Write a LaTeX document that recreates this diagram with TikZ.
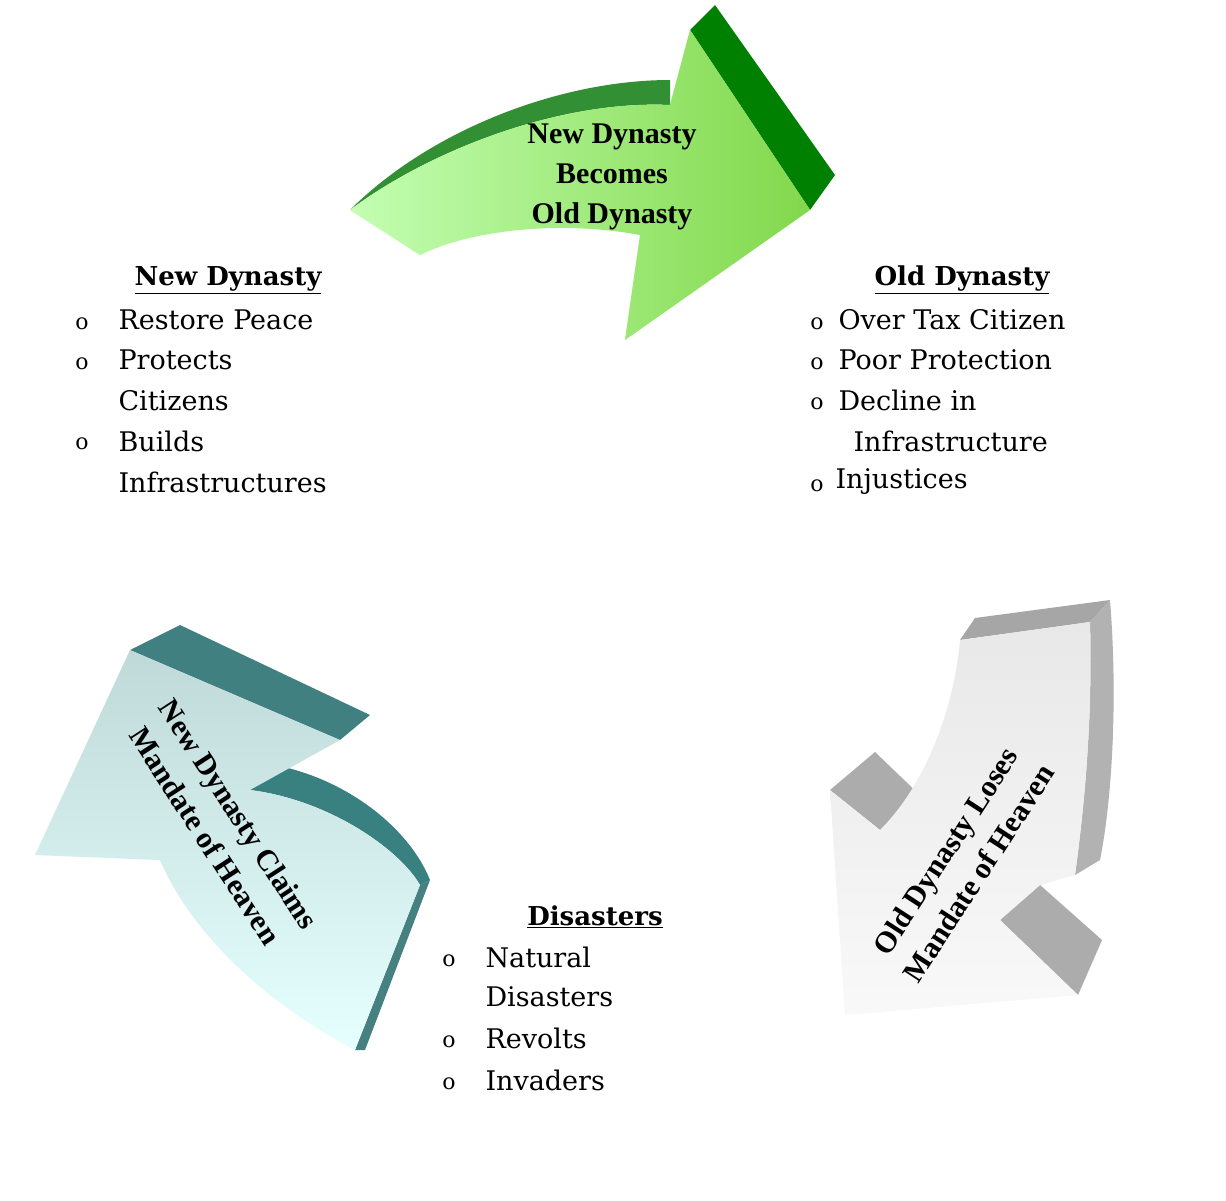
\documentclass[tikz,border=0pt]{standalone}
\usepackage{fontspec}
\setmainfont{Liberation Serif}
\newfontfamily\listfont{DejaVu Serif}
\begin{document}
\begin{tikzpicture}[x=1pt,y=-1pt,
    listtext/.style={anchor=west, font=\listfont\fontsize{27}{34}\selectfont},
    bul/.style={anchor=center, font=\listfont\fontsize{22}{30}\selectfont},
    title/.style={anchor=center, font=\listfont\fontsize{26}{34}\selectfont\bfseries},
    arrowtext/.style={align=center, font=\fontsize{30}{40}\selectfont\bfseries, inner sep=0pt}
  ]
    \useasboundingbox[fill=white] (0,0) rectangle (1226,1200);

    % Fleche haute (verte)
    \fill[green!45!black!80] (350,210) .. controls (430,130) and (560,80) .. (670,80) -- (670,105) .. controls (560,100) and (430,150) .. (350,210) -- cycle;
    \fill[green!50!black] (690,30) -- (715,5) -- (835,175) -- (810,210) -- cycle;
    \fill[green!55!lime!40!white] (350,210) .. controls (430,150) and (560,100) .. (670,105) -- (690,30) -- (810,210) -- (625,340) -- (640,235) .. controls (560,220) and (470,230) .. (420,255) -- cycle;
    \shade[left color=green!20!white, right color=green!45!lime!70!black, opacity=0.5] (350,210) .. controls (430,150) and (560,100) .. (670,105) -- (690,30) -- (810,210) -- (625,340) -- (640,235) .. controls (560,220) and (470,230) .. (420,255) -- cycle;

    % Fleche gauche (bleu-vert)
    \fill[teal!50!gray] (130,650) -- (180,625) -- (370,715) -- (340,740) -- cycle;
    \fill[teal!55!gray] (250,790) -- (275,765) .. controls (350,780) and (410,830) .. (430,880) -- (420,885) .. controls (400,850) and (330,800) .. (250,790) -- cycle;
    \fill[teal!45!gray] (420,885) -- (430,880) -- (365,1050) -- (355,1050) -- cycle;
    \shade[top color=cyan!25!gray!40, bottom color=cyan!10!white] (35,855) -- (130,650) -- (340,740) -- (250,790) .. controls (330,800) and (400,850) .. (420,885) -- (355,1050) .. controls (260,1000) and (190,930) .. (160,860) -- cycle;

    % Fleche droite (grise)
    \fill[gray!70] (960,640) -- (975,618) -- (1110,600) -- (1090,622) -- cycle;
    \fill[gray!60] (1090,622) -- (1110,600) .. controls (1118,700) and (1112,800) .. (1100,860) -- (1075,875) .. controls (1088,780) and (1092,700) .. (1090,622) -- cycle;
    \fill[gray!65] (830,790) -- (875,752) -- (925,800) -- (880,830) -- cycle;
    \fill[gray!65] (1000,920) -- (1040,885) -- (1102,940) -- (1078,995) -- cycle;
    \shade[top color=gray!18, bottom color=gray!5] (960,640) -- (1090,622) .. controls (1092,700) and (1088,780) .. (1075,875) -- (1040,885) -- (1000,920) -- (1078,995) -- (845,1015) -- (830,790) -- (880,830) .. controls (930,780) and (955,700) .. (960,640) -- cycle;

    % Textes des fleches
    \node[arrowtext] (tTop) at (612,177) {New Dynasty\\Becomes\\Old Dynasty};
    \node[arrowtext, rotate=-57] (tLeft) at (222,825) {New Dynasty Claims\\Mandate of Heaven};
    \node[arrowtext, rotate=57] (tRight) at (962,862) {Old Dynasty Loses\\Mandate of Heaven};

    % New Dynasty
    \node[title] (nd) at (228,280) {\underline{New Dynasty}};
    \foreach \y in {324,364,444} \node[bul] at (82,\y) {o};
    \node[listtext] (nd1) at (115,320) {Restore Peace};
    \node[listtext] (nd2) at (115,360) {Protects};
    \node[listtext] (nd3) at (115,401) {Citizens};
    \node[listtext] (nd4) at (115,441) {Builds};
    \node[listtext] (nd5) at (115,482) {Infrastructures};

    % Old Dynasty
    \node[title] (od) at (962,280) {\underline{Old Dynasty}};
    \foreach \y in {324,364,404,486} \node[bul] at (817,\y) {o};
    \node[listtext] (od1) at (835,320) {Over Tax Citizen};
    \node[listtext] (od2) at (835,360) {Poor Protection};
    \node[listtext] (od3) at (835,400) {Decline in};
    \node[listtext] (od4) at (850,441) {Infrastructure};
    \node[listtext] (od5) at (832,482) {Injustices};

    % Disasters
    \node[title] (ds) at (595,917) {\underline{Disasters}};
    \foreach \y in {961,1042,1084} \node[bul] at (449,\y) {o};
    \node[listtext] (ds1) at (482,957) {Natural};
    \node[listtext] (ds2) at (482,997) {Disasters};
    \node[listtext] (ds3) at (482,1038) {Revolts};
    \node[listtext] (ds4) at (482,1080) {Invaders};
\end{tikzpicture}
\end{document}
